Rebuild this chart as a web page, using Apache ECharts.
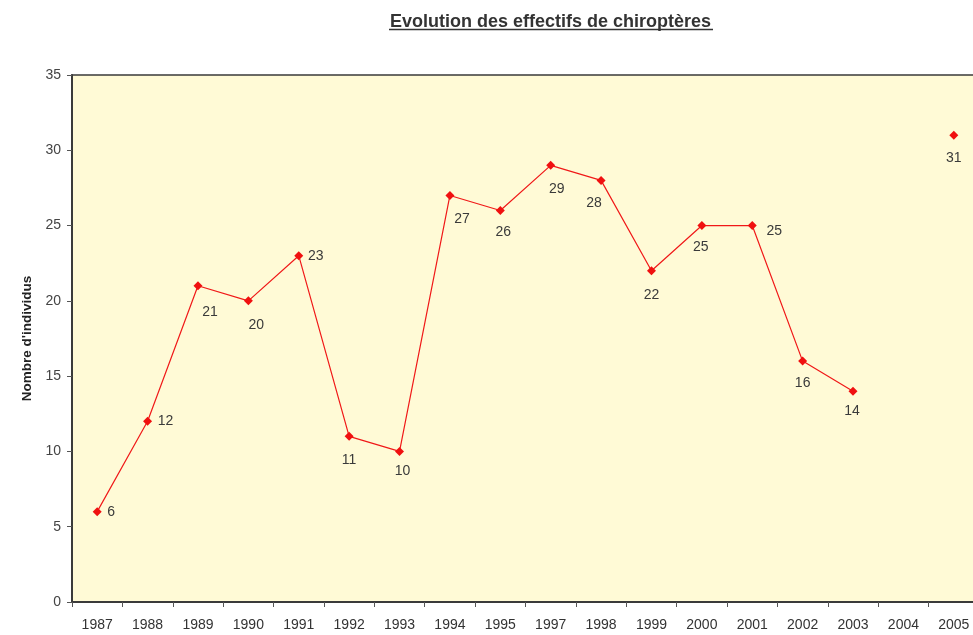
<!DOCTYPE html>
<html>
<head>
<meta charset="utf-8">
<script src="https://cdn.jsdelivr.net/npm/echarts@6/dist/echarts.min.js"></script>
<style>
  html, body { margin: 0; padding: 0; background: #fff; }
  #chart { width: 973px; height: 635px; }
</style>
</head>
<body>
<div id="chart"></div>
<script>
// Survey years (no count in 1996) and bat counts per year
const years = ['1987','1988','1989','1990','1991','1992','1993','1994','1995',
               '1997','1998','1999','2000','2001','2002','2003','2004','2005'];
const counts = [6, 12, 21, 20, 23, 11, 10, 27, 26, 29, 28, 22, 25, 25, 16, 14, null, 31];
// Value label shift from each marker's centre, in pixels
const labelOffsets = [[14,0],[18,0],[12,26],[8,24],[17,0],[0,24],[3,20],[12,24],[3,22],
                      [6,24],[-7,23],[0,24],[-1,22],[22,6],[0,22],[-1,20],[0,0],[0,23]];
const yTicks = { min: 0, max: 35, step: 5 };

const chart = echarts.init(document.getElementById('chart'), null, { renderer: 'canvas' });

const font = '"Liberation Sans", Arial, sans-serif';

const seriesData = counts.map((v, i) => {
  if (v === null) return null;
  return {
    value: v,
    label: { position: 'inside', offset: labelOffsets[i] }
  };
});

chart.setOption({
  animation: false,
  title: {
    text: 'Evolution des effectifs de chiroptères',
    left: 385,
    top: 8,
    textStyle: { fontFamily: font, fontSize: 18, fontWeight: 'bold', color: '#333' }
  },
  graphic: [{
    type: 'line',
    shape: { x1: 389, y1: 29.5, x2: 713, y2: 29.5 },
    style: { stroke: '#333', lineWidth: 1.5 }
  }],
  grid: {
    left: 72, width: 907, top: 75, bottom: 33,
    outerBoundsMode: 'none',
    containLabel: false,
    show: true,
    backgroundColor: '#FFFAD6',
    borderColor: '#3a3a3a',
    borderWidth: 1.5
  },
  xAxis: {
    type: 'category',
    data: years,
    boundaryGap: true,
    axisLine: { lineStyle: { color: '#3a3a3a', width: 2 } },
    axisTick: { show: true, length: 5, alignWithLabel: false, lineStyle: { color: '#555' } },
    axisLabel: { fontFamily: font, fontSize: 14, color: '#333', margin: 16, interval: 0 },
    splitLine: { show: false }
  },
  yAxis: {
    type: 'value',
    min: yTicks.min, max: yTicks.max, interval: yTicks.step,
    name: "Nombre d'individus",
    nameLocation: 'middle',
    nameGap: 37,
    nameTextStyle: { fontFamily: font, fontSize: 13.5, fontWeight: 'bold', color: '#222' },
    axisLine: { show: true, lineStyle: { color: '#3a3a3a', width: 2 } },
    axisTick: { show: true, length: 5, lineStyle: { color: '#555' } },
    axisLabel: { fontFamily: font, fontSize: 14, color: '#444', margin: 11 },
    splitLine: { show: false }
  },
  series: [{
    type: 'line',
    data: seriesData,
    connectNulls: false,
    symbol: 'diamond',
    symbolSize: 9,
    itemStyle: { color: '#F01010' },
    lineStyle: { color: '#F01818', width: 1.2 },
    label: {
      show: true,
      fontFamily: font, fontSize: 14, color: '#3a3a3a'
    }
  }]
});
</script>
</body>
</html>
